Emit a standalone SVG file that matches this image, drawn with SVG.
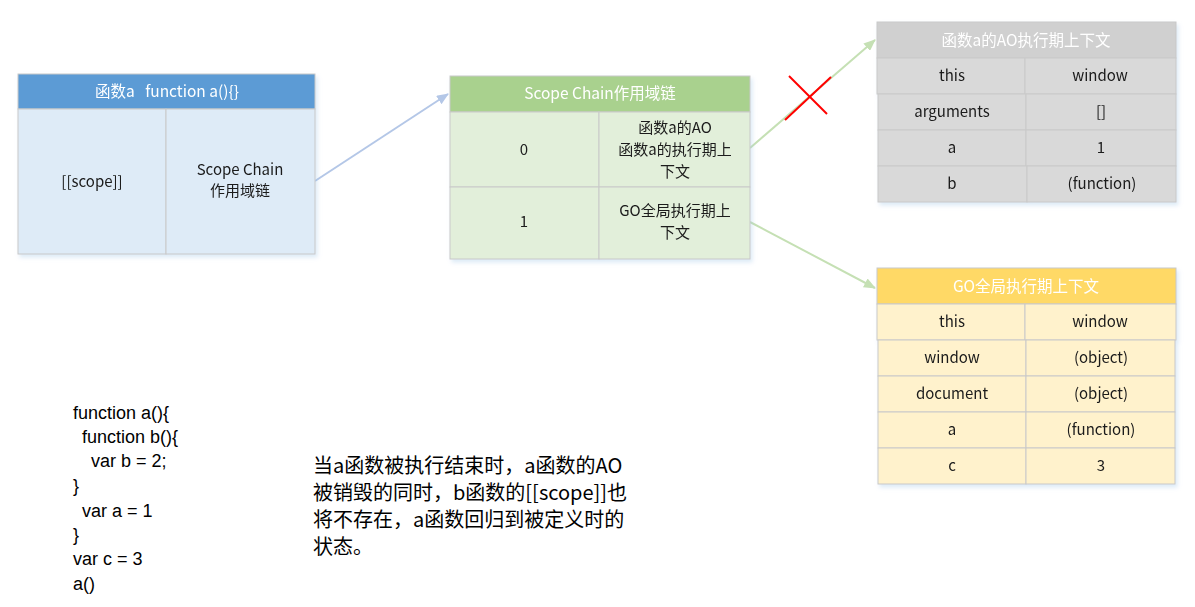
<svg xmlns="http://www.w3.org/2000/svg" width="1195" height="607" viewBox="0 0 1195 607">
<style>
.t{font-family:"Noto Sans CJK SC","Liberation Sans",sans-serif;font-size:15px;fill:#1a1a1a;text-anchor:middle}
.h{fill:#ffffff;font-size:15.5px}
.cell{stroke:#c9c9c9;stroke-width:1}
.code{font-family:"Liberation Sans","Noto Sans CJK SC",sans-serif;font-size:18px;fill:#000}
.desc{font-family:"Noto Sans CJK SC","Liberation Sans",sans-serif;font-size:20px;fill:#000}
</style>
<defs>
<filter id="sh" x="-5%" y="-5%" width="115%" height="120%">
<feDropShadow dx="2" dy="3" stdDeviation="2" flood-color="#9dc3e6" flood-opacity="0.35"/>
</filter>
<marker id="ab" viewBox="0 0 12 10" refX="11" refY="5" markerWidth="12" markerHeight="10" markerUnits="userSpaceOnUse" orient="auto">
<path d="M0,0 L12,5 L0,10 z" fill="#b4c7e7"/>
</marker>
<marker id="ag" viewBox="0 0 12 10" refX="11" refY="5" markerWidth="12" markerHeight="10" markerUnits="userSpaceOnUse" orient="auto">
<path d="M0,0 L12,5 L0,10 z" fill="#c5e0b4"/>
</marker>
</defs>
<rect width="1195" height="607" fill="#ffffff"/>

<g id="connectors">
<line x1="315" y1="181" x2="448" y2="94" stroke="#b4c7e7" stroke-width="2" marker-end="url(#ab)"/>
<line x1="750" y1="148" x2="875" y2="40" stroke="#c5e0b4" stroke-width="2" marker-end="url(#ag)"/>
<line x1="750" y1="222" x2="875" y2="288" stroke="#c5e0b4" stroke-width="2" marker-end="url(#ag)"/>
<g id="cross" stroke="#ff0000" stroke-width="2">
<line x1="789" y1="76" x2="827" y2="114"/>
<line x1="831" y1="77" x2="785" y2="120"/>
</g>
</g>

<g id="node-function-a" filter="url(#sh)">
<rect x="18" y="74" width="297" height="35" fill="#5b9bd5" class="cell"/>
<rect x="18" y="109" width="148" height="145" fill="#deebf7" class="cell"/>
<rect x="166" y="109" width="149" height="145" fill="#deebf7" class="cell"/>
<text class="t h" x="167" y="97" xml:space="preserve">函数a   function a(){}</text>
<text class="t" x="92" y="187">[[scope]]</text>
<text class="t" x="240" y="175">Scope Chain</text>
<text class="t" x="240" y="196">作用域链</text>
</g>

<g id="node-scope-chain" filter="url(#sh)">
<rect x="450" y="76" width="300" height="36" fill="#a9d18e" class="cell"/>
<rect x="450" y="112" width="149" height="75" fill="#e2efda" class="cell"/>
<rect x="599" y="112" width="151" height="75" fill="#e2efda" class="cell"/>
<rect x="450" y="187" width="149" height="72" fill="#e2efda" class="cell"/>
<rect x="599" y="187" width="151" height="72" fill="#e2efda" class="cell"/>
<text class="t h" x="600" y="99">Scope Chain作用域链</text>
<text class="t" x="524" y="155">0</text>
<text class="t" x="675" y="133">函数a的AO</text>
<text class="t" x="675" y="155">函数a的执行期上</text>
<text class="t" x="675" y="177">下文</text>
<text class="t" x="524" y="227">1</text>
<text class="t" x="675" y="216">GO全局执行期上</text>
<text class="t" x="675" y="238">下文</text>
</g>

<g id="node-ao" filter="url(#sh)">
<rect x="877" y="22" width="299" height="36" fill="#d0d0d0" class="cell"/>
<rect x="877" y="58" width="148" height="36" fill="#d9d9d9" class="cell"/>
<rect x="1025" y="58" width="151" height="36" fill="#d9d9d9" class="cell"/>
<rect x="878" y="94" width="148" height="36" fill="#d9d9d9" class="cell"/>
<rect x="1026" y="94" width="150" height="36" fill="#d9d9d9" class="cell"/>
<rect x="878" y="130" width="148" height="36" fill="#d9d9d9" class="cell"/>
<rect x="1026" y="130" width="150" height="36" fill="#d9d9d9" class="cell"/>
<rect x="878" y="166" width="149" height="36" fill="#d9d9d9" class="cell"/>
<rect x="1027" y="166" width="149" height="36" fill="#d9d9d9" class="cell"/>
<text class="t h" x="1026" y="46">函数a的AO执行期上下文</text>
<text class="t" x="952" y="81">this</text>
<text class="t" x="1100" y="81">window</text>
<text class="t" x="952" y="117">arguments</text>
<text class="t" x="1101" y="117">[]</text>
<text class="t" x="952" y="153">a</text>
<text class="t" x="1101" y="153">1</text>
<text class="t" x="952" y="189">b</text>
<text class="t" x="1102" y="189">(function)</text>
</g>

<g id="node-go" filter="url(#sh)">
<rect x="877" y="268" width="299" height="36" fill="#ffd966" class="cell"/>
<rect x="877" y="304" width="148" height="36" fill="#fff2cc" class="cell"/>
<rect x="1025" y="304" width="151" height="36" fill="#fff2cc" class="cell"/>
<rect x="878" y="340" width="148" height="36" fill="#fff2cc" class="cell"/>
<rect x="1026" y="340" width="149" height="36" fill="#fff2cc" class="cell"/>
<rect x="878" y="376" width="148" height="36" fill="#fff2cc" class="cell"/>
<rect x="1026" y="376" width="149" height="36" fill="#fff2cc" class="cell"/>
<rect x="878" y="412" width="148" height="36" fill="#fff2cc" class="cell"/>
<rect x="1026" y="412" width="149" height="36" fill="#fff2cc" class="cell"/>
<rect x="878" y="448" width="148" height="36" fill="#fff2cc" class="cell"/>
<rect x="1026" y="448" width="149" height="36" fill="#fff2cc" class="cell"/>
<text class="t h" x="1026" y="292">GO全局执行期上下文</text>
<text class="t" x="952" y="327">this</text>
<text class="t" x="1100" y="327">window</text>
<text class="t" x="952" y="363">window</text>
<text class="t" x="1101" y="363">(object)</text>
<text class="t" x="952" y="399">document</text>
<text class="t" x="1101" y="399">(object)</text>
<text class="t" x="952" y="435">a</text>
<text class="t" x="1101" y="435">(function)</text>
<text class="t" x="952" y="471">c</text>
<text class="t" x="1101" y="471">3</text>
</g>

<g id="code">
<text class="code" x="73" y="419">function a(){</text>
<text class="code" x="82" y="443">function b(){</text>
<text class="code" x="91" y="467">var b = 2;</text>
<text class="code" x="73" y="492">}</text>
<text class="code" x="82" y="517">var a = 1</text>
<text class="code" x="73" y="541">}</text>
<text class="code" x="73" y="565">var c = 3</text>
<text class="code" x="73" y="590">a()</text>
</g>

<g id="description">
<text class="desc" x="313" y="473">当a函数被执行结束时，a函数的AO</text>
<text class="desc" x="313" y="500">被销毁的同时，b函数的[[scope]]也</text>
<text class="desc" x="313" y="527">将不存在，a函数回归到被定义时的</text>
<text class="desc" x="313" y="554">状态。</text>
</g>
</svg>
